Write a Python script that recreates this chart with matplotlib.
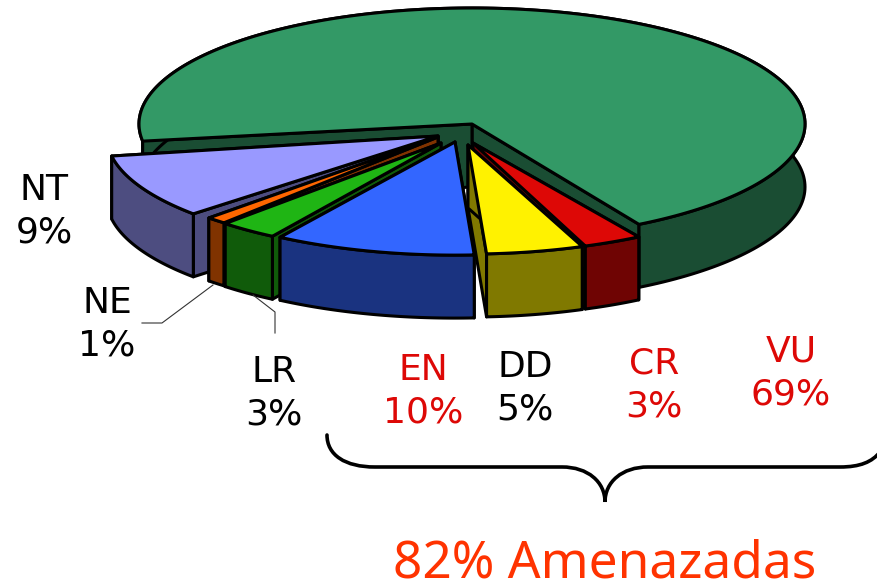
import numpy as np
import matplotlib
matplotlib.use('Agg')
import matplotlib.pyplot as plt
from matplotlib.patches import Polygon, PathPatch
from matplotlib.path import Path

plt.rcParams['font.family'] = ['DejaVu Sans']

# going counterclockwise from the left edge of the pie
categories = ['NT', 'NE', 'LR', 'EN', 'DD', 'CR', 'VU']
values = [9, 1, 3, 10, 5, 3, 69]
top_colors = ['#9999FF', '#FF6600', '#1FB514', '#3366FF', '#FFF200', '#DD0806', '#339966']
side_colors = ['#4D4D80', '#803300', '#105B0A', '#1A3380', '#807900', '#6F0403', '#1A4D33']

# apex of each slice in pixels, its size against the full pie, small rotation
apex_x = [438, 438, 441, 455, 468, 473, 472]
apex_y = [136, 137, 143, 142, 145, 143, 124]
scale = [0.995, 0.98, 0.95, 0.975, 0.94, 0.95, 1.0]
turn = [0, 3, 1, 0.6, 0.6, 0, -1.5]

RX = 333
RY = 116
DEPTH = 63
START = 190
LW = 2.2

fig = plt.figure(figsize=(8.77, 5.82), dpi=100)
ax = fig.add_axes([0, 0, 1, 1])
ax.set_xlim(0, 877)
ax.set_ylim(582, 0)
ax.axis('off')


def draw_slice(cx, cy, a0, a1, r, top, side):
    t = np.radians(np.linspace(a0, a1, 200))
    xs = cx + r * RX * np.cos(t)
    ys = cy - r * RY * np.sin(t)
    # radial walls
    for x, y in [(xs[0], ys[0]), (xs[-1], ys[-1])]:
        wall = [(cx, cy), (x, y), (x, y + DEPTH), (cx, cy + DEPTH)]
        ax.add_patch(Polygon(wall, fc=side, ec='k', lw=LW, joinstyle='round'))
    # outer rim
    band = np.r_[np.c_[xs, ys], np.c_[xs, ys + DEPTH][::-1]]
    ax.add_patch(Polygon(band, fc=side, ec='k', lw=LW, joinstyle='round'))
    # top face
    face = np.r_[[[cx, cy]], np.c_[xs, ys]]
    ax.add_patch(Polygon(face, fc=top, ec='k', lw=LW, joinstyle='round'))


ends = START + np.cumsum(values) * 3.6
starts = ends - np.array(values) * 3.6
for i in [6, 0, 1, 2, 3, 5, 4]:
    draw_slice(apex_x[i], apex_y[i], starts[i] + turn[i], ends[i] + turn[i], scale[i],
               top_colors[i], side_colors[i])

# leader lines
ax.plot([142, 162, 213], [323, 323, 285], color='#333333', lw=0.8)
ax.plot([253, 275, 275], [295, 312, 333], color='#333333', lw=0.8)

# brace under the threatened groups
verts = [(327, 435), (327, 455), (345, 467), (375, 467),
         (562, 467),
         (588, 467), (605, 482), (605, 502),
         (605, 482), (622, 467), (648, 467),
         (840, 467),
         (860, 467), (872, 462), (880, 452)]
codes = [Path.MOVETO, Path.CURVE4, Path.CURVE4, Path.CURVE4,
         Path.LINETO,
         Path.CURVE4, Path.CURVE4, Path.CURVE4,
         Path.CURVE4, Path.CURVE4, Path.CURVE4,
         Path.LINETO,
         Path.CURVE4, Path.CURVE4, Path.CURVE4]
ax.add_patch(PathPatch(Path(verts, codes), fc='none', ec='k', lw=2.6, capstyle='round'))

# labels
RED = '#DD0806'
labels = [('NT\n9%', 44, 211, 'k'), ('NE\n1%', 107, 324, 'k'), ('LR\n3%', 274, 393, 'k'),
          ('EN\n10%', 423, 391, RED), ('DD\n5%', 525, 388, 'k'), ('CR\n3%', 654, 385, RED),
          ('VU\n69%', 791, 373, RED)]
for txt, x, y, c in labels:
    ax.text(x, y, txt, ha='center', va='center', color=c, fontsize=26, linespacing=1.3)

ax.text(605, 578, '82% Amenazadas', ha='center', va='baseline', color='#FF3300', fontsize=37,
        family=['Noto Sans', 'DejaVu Sans'])

fig.savefig('out.png', dpi=100)
